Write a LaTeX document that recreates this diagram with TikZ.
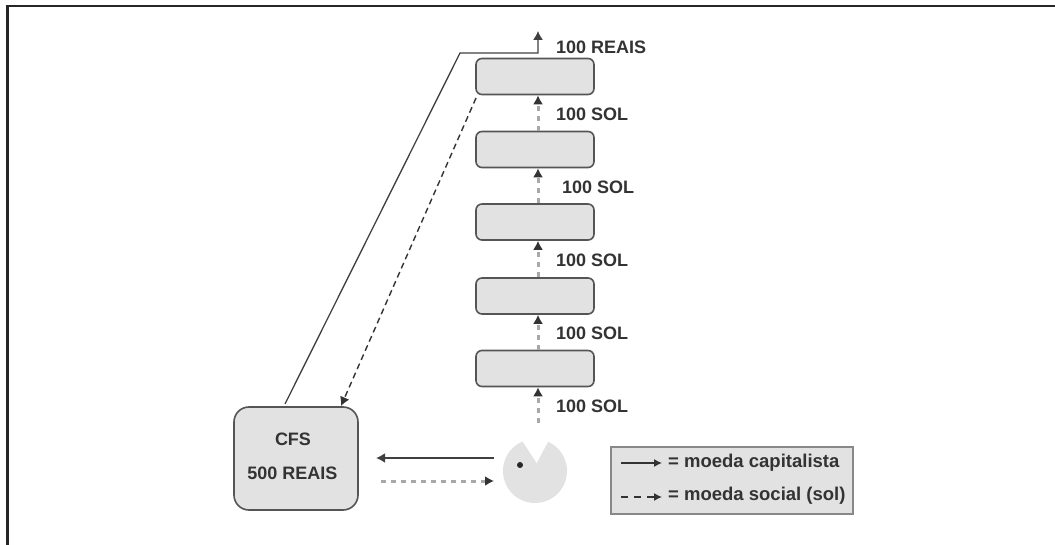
\documentclass[tikz,border=0pt]{standalone}
\usepackage{fontspec}
\setmainfont{Liberation Sans}
\usetikzlibrary{arrows.meta}
\definecolor{fillg}{HTML}{E2E2E2}
\definecolor{lineg}{HTML}{555555}
\definecolor{dashg}{HTML}{A8A8A8}
\tikzset{
  x=1pt,y=-1pt,
  stage/.style={draw=lineg,line width=1.6pt,fill=fillg,rounded corners=6pt,minimum width=118pt,minimum height=36pt,inner sep=0pt},
  hub/.style={draw=lineg,line width=1.6pt,fill=fillg,rounded corners=15pt,minimum width=124pt,minimum height=103pt,inner sep=0pt,align=center},
  lab/.style={font=\bfseries\fontsize{18}{20}\selectfont,text=black!80,inner sep=0pt},
  key/.style={font=\bfseries\fontsize{18.5}{20}\selectfont,text=black!80,inner sep=0pt,anchor=west},
  solidarrow/.style={draw=black!75,line width=1.3pt,-{Latex[length=9pt,width=10pt]}},
  dasharrow/.style={draw=black!80,line width=1.4pt,dash pattern=on 6pt off 4pt,-{Latex[length=9pt,width=10pt]}},
  sunarrow/.style={draw=dashg,line width=3pt,dash pattern=on 5pt off 5pt,-{Latex[length=9pt,width=10pt,black!80]}},
}
\begin{document}
\begin{tikzpicture}
\useasboundingbox (0,0) rectangle (1055,545);
\fill[white] (0,0) rectangle (1055,545);
\draw[black!85,line width=2.4pt] (7.5,545) -- (7.5,6) -- (1055,6);
% stages
\node[stage] (s1) at (535,76.5) {};
\node[stage] (s2) at (535,149.5) {};
\node[stage] (s3) at (535,222) {};
\node[stage] (s4) at (535,296) {};
\node[stage] (s5) at (535,368.5) {};
\node[hub] (cfs) at (296,458.5) {};
\node[lab] (t1) at (293,439) {CFS};
\node[lab] (t2) at (292.5,473) {500 REAIS};
% pacman
\node[circle,fill=fillg,minimum size=64pt,inner sep=0pt] (pacman) at (535,471) {};
\fill[white] (536.7,463) -- (514.2,428.5) -- (553.7,431) -- cycle;
\node[circle,fill=black!85,minimum size=6pt,inner sep=0pt] (eye) at (520,465) {};
\coordinate (pac) at (538,423);
\coordinate (top) at (538,31);
\coordinate (bend) at (460,53);
\coordinate (bend2) at (538,53);
\coordinate (start) at (285,404);
% connectors
\draw[sunarrow] (pac) -- ([xshift=3pt]s5.south);
\draw[sunarrow] ([xshift=3pt]s5.north) -- ([xshift=3pt]s4.south);
\draw[sunarrow] ([xshift=3pt]s4.north) -- ([xshift=3pt]s3.south);
\draw[sunarrow] ([xshift=3pt]s3.north) -- ([xshift=3pt]s2.south);
\draw[sunarrow] ([xshift=3pt]s2.north) -- ([xshift=3pt]s1.south);
\draw[solidarrow] (start) -- (bend) -- (bend2) -- (top);
\draw[dasharrow] (476,98) -- (341,406);
\coordinate (ha) at (494,458);
\coordinate (hb) at (376,458);
\coordinate (hc) at (381,481);
\coordinate (hd) at (494,481);
\draw[solidarrow,line width=1.8pt] (ha) -- (hb);
\draw[sunarrow] (hc) -- (hd);
% labels
\node[lab,anchor=west] (l0) at (556,47) {100 REAIS};
\node[lab,anchor=west] (l1) at (556,114) {100 SOL};
\node[lab,anchor=west] (l2) at (562,187) {100 SOL};
\node[lab,anchor=west] (l3) at (556,260) {100 SOL};
\node[lab,anchor=west] (l4) at (556,333) {100 SOL};
\node[lab,anchor=west] (l5) at (556,406) {100 SOL};
% legend
\node[draw=lineg!70,line width=1.5pt,fill=fillg,minimum width=242pt,minimum height=67pt,inner sep=0pt] (legend) at (732,480.5) {};
\coordinate (k1a) at (621,463);
\coordinate (k1b) at (662,463);
\coordinate (k2a) at (621,497);
\coordinate (k2b) at (662,497);
\draw[draw=black!80,line width=1.2pt,-{Latex[length=8pt,width=8pt]}] (k1a) -- (k1b);
\draw[draw=black!80,line width=1.2pt,dash pattern=on 7pt off 6pt,-{Latex[length=8pt,width=8pt]}] (k2a) -- (k2b);
\node[key] (k1) at (668,463) {= moeda capitalista};
\node[key] (k2) at (668,496) {= moeda social (sol)};
\end{tikzpicture}
\end{document}
